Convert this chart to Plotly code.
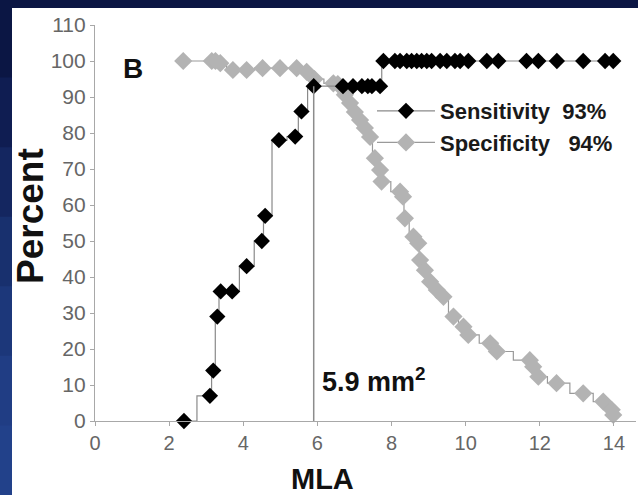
import plotly.graph_objects as go

# ---- data ----
sens_x = [2.4, 3.1, 3.19, 3.3, 3.39, 3.7, 4.09, 4.5, 4.59, 4.96, 5.4, 5.57, 5.9,
          6.69, 6.96, 7.2, 7.36, 7.47, 7.69,
          7.78, 8.09, 8.23, 8.41, 8.54, 8.68, 8.81, 8.95, 9.08, 9.31, 9.49, 9.71,
          9.85, 10.07, 10.57, 10.88, 11.64, 11.96, 12.46, 13.17, 13.76, 13.98]
sens_y = [0, 7, 14, 29, 36, 36, 43, 50, 57, 78, 79, 86, 93,
          93, 93, 93, 93, 93, 93,
          100, 100, 100, 100, 100, 100, 100, 100, 100, 100, 100, 100,
          100, 100, 100, 100, 100, 100, 100, 100, 100, 100]

spec_x = [2.38, 3.15, 3.25, 3.38, 3.72, 4.09, 4.52, 4.99, 5.44, 5.71, 5.92, 6.43,
          6.55, 6.74, 6.88, 7.01, 7.15, 7.28, 7.42, 7.55, 7.69, 7.73, 8.23, 8.31,
          8.36, 8.59, 8.72, 8.77, 8.9, 9.04, 9.22, 9.4, 9.67, 9.94, 10.07, 10.66,
          10.84, 11.73, 11.82, 11.96, 12.45, 13.17, 13.71, 13.94, 13.98]
spec_y = [100, 100, 100, 99.4, 97.5, 97.5, 98, 98, 98, 97, 95, 93.8,
          93.6, 90.6, 88.3, 85.8, 83.6, 81.4, 78.9, 73, 69.7, 66.5, 63.7, 62.3,
          56.3, 51.2, 49.4, 44.7, 41.9, 38.7, 36.4, 34.5, 29, 26.2, 23.9, 21.6,
          19.3, 16.9, 15.1, 12.3, 10.5, 7.7, 5.4, 3.1, 1.7]

cutoff = 5.9
cutoff_sens = 93
sens_label = "<b>Sensitivity\u00a0\u00a093%</b>"
spec_label = "<b>Specificity\u00a0\u00a0\u00a094%</b>"
x_ticks = [0, 2, 4, 6, 8, 10, 12, 14]
y_ticks = [0, 10, 20, 30, 40, 50, 60, 70, 80, 90, 100, 110]

# ---- layout geometry ----
W, H = 638, 495
ML, MR, MT, MB = 95, 2, 25, 74
PW, PH = W - ML - MR, H - MT - MB


def px(x):
    return (x - ML) / PW


def py(y):
    return (H - MB - y) / PH


FONT = "Liberation Sans, Arial, sans-serif"

fig = go.Figure()

fig.add_trace(go.Scatter(
    x=spec_x, y=spec_y, mode="lines+markers", name=spec_label,
    line=dict(color="#9a9a9a", width=1.2, shape="hvh"),
    marker=dict(symbol="diamond", size=14, color="#b3b3b3"),
    cliponaxis=False, legendrank=2, legendgroup="b",
))
fig.add_trace(go.Scatter(
    x=sens_x, y=sens_y, mode="lines+markers", name=sens_label,
    line=dict(color="#8a8a8a", width=1.2, shape="hvh"),
    marker=dict(symbol="diamond", size=12.5, color="#000000"),
    cliponaxis=False, legendrank=1, legendgroup="a",
))

shapes = []
shapes.append(dict(type="rect", xref="paper", yref="paper", layer="below",
                   x0=px(12), x1=px(W + 5), y0=py(H + 5), y1=py(8),
                   fillcolor="white", line=dict(width=0)))
cols = ["#0b1644", "#0f1d52", "#142660", "#18306e", "#1c377a", "#203d84", "#22418a"]
n = len(cols)
for i, c in enumerate(cols):
    shapes.append(dict(type="rect", xref="paper", yref="paper", layer="below",
                       x0=px(-2), x1=px(12),
                       y0=py(8 + (H - 8) * (i + 1) / n + 1), y1=py(8 + (H - 8) * i / n),
                       fillcolor=c, line=dict(width=0)))
shapes.append(dict(type="line", xref="x", yref="y", x0=cutoff, x1=cutoff,
                   y0=0, y1=cutoff_sens, line=dict(color="#8c8c8c", width=1.5)))
fig.update_layout(shapes=shapes)

fig.add_annotation(xref="paper", yref="paper", x=px(133), y=py(68), text="<b>B</b>",
                   showarrow=False, xanchor="center", yanchor="middle",
                   font=dict(family=FONT, size=28, color="#111111"))
fig.add_annotation(xref="paper", yref="paper", x=px(320), y=py(380),
                   text="<b>5.9 mm<sup>2</sup></b>",
                   showarrow=False, xanchor="left", yanchor="middle",
                   font=dict(family=FONT, size=27, color="#111111"))
fig.add_annotation(xref="paper", yref="paper", x=px(30), y=py(216), text="<b>Percent</b>",
                   showarrow=False, textangle=-90, xanchor="center", yanchor="middle",
                   font=dict(family=FONT, size=37, color="#111111"))
fig.add_annotation(xref="paper", yref="paper", x=px(322), y=py(479), text="<b>MLA</b>",
                   showarrow=False, xanchor="center", yanchor="middle",
                   font=dict(family=FONT, size=29, color="#111111"))

fig.update_layout(
    width=W, height=H,
    margin=dict(l=ML, r=MR, t=MT, b=MB),
    paper_bgcolor="#0b1644",
    plot_bgcolor="rgba(0,0,0,0)",
    showlegend=True,
    legend=dict(x=px(372), y=py(90), xanchor="left", yanchor="top",
                bgcolor="rgba(0,0,0,0)", tracegroupgap=0, itemwidth=58,
                font=dict(family=FONT, size=22, color="#1a1a1a")),
    font=dict(family=FONT),
)
fig.update_xaxes(range=[0, PW / 37.07], tickvals=x_ticks, showgrid=False, zeroline=False,
                 showline=True, linecolor="#a8a8a8", linewidth=1.2,
                 ticks="outside", ticklen=4, tickcolor="#a8a8a8",
                 tickfont=dict(family=FONT, size=20, color="#666666"))
fig.update_yaxes(range=[0, 110], tickvals=y_ticks, showgrid=False, zeroline=False,
                 showline=True, linecolor="#a8a8a8", linewidth=1.2,
                 ticks="outside", ticklen=4, tickcolor="#a8a8a8",
                 tickfont=dict(family=FONT, size=21, color="#666666"))

fig.write_html("out.html", config={"displayModeBar": False},
               post_script="document.body.style.margin='0px';")
